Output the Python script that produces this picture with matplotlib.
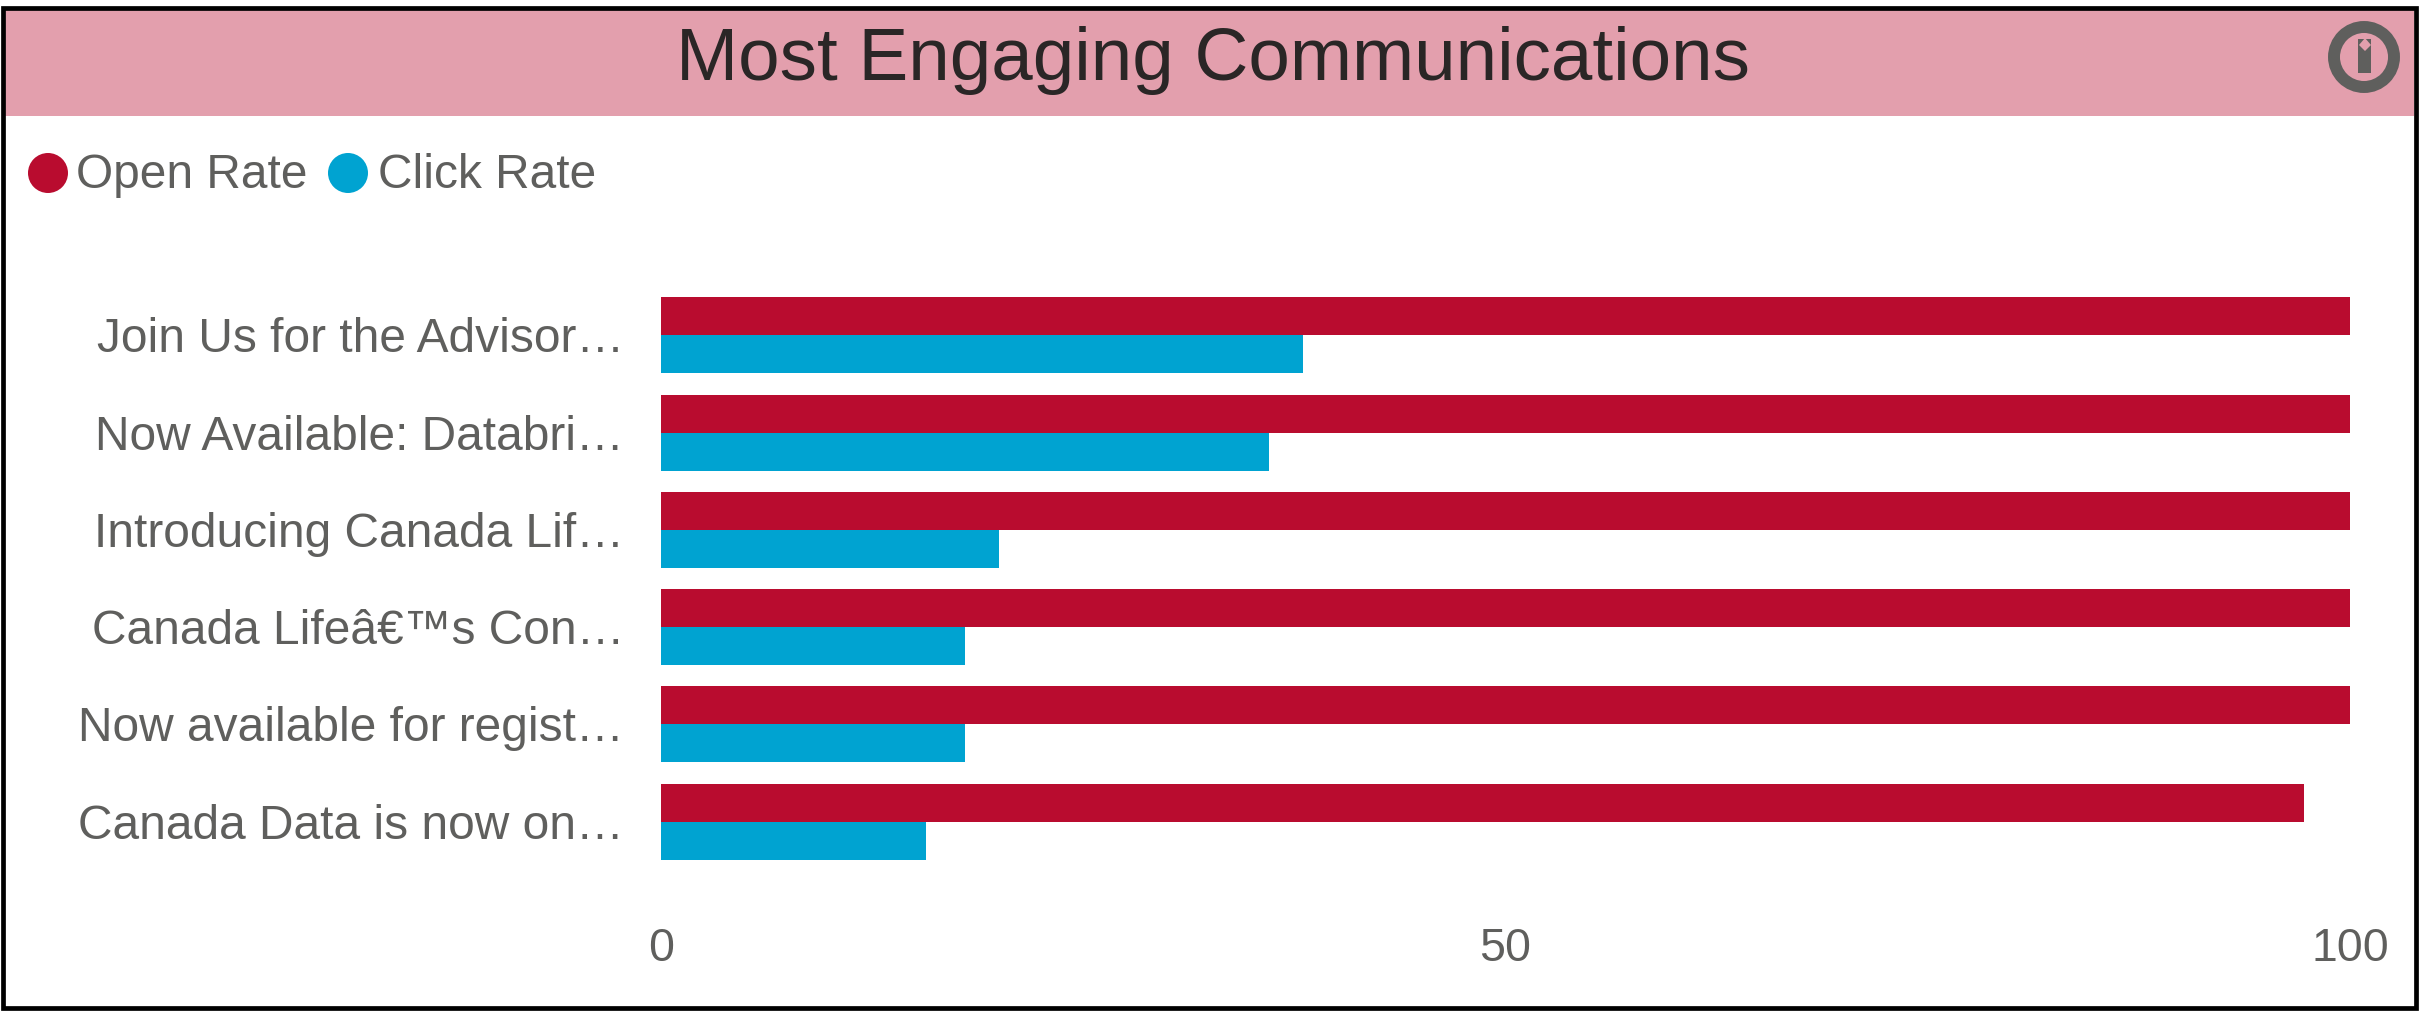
import matplotlib
matplotlib.use("Agg")
import matplotlib.pyplot as plt
from matplotlib.patches import Rectangle, Circle, Polygon
from matplotlib.transforms import ScaledTranslation
import numpy as np

W, H = 2419, 1012
RED = "#B90C2F"
BLUE = "#00A3D1"
HEADER = "#E39FAD"
GREY = "#5F5F5D"

categories = [
    "Join Us for the Advisor…",
    "Now Available: Databri…",
    "Introducing Canada Lif…",
    "Canada Lifeâ€™s Con…",
    "Now available for regist…",
    "Canada Data is now on…",
]
open_rate = [100, 100, 100, 100, 100, 97.3]
click_rate = [38, 36, 20, 18, 18, 15.7]
x_ticks = [0, 50, 100]
series_names = ["Open Rate", "Click Rate"]

plt.rcParams["font.family"] = ["Liberation Sans", "DejaVu Sans"]
fig = plt.figure(figsize=(W / 100, H / 100), dpi=100, facecolor="white")

# Page-level layer in pixel coordinates: frame, header band, info icon, legend
page = fig.add_axes([0, 0, 1, 1])
page.set_xlim(0, W)
page.set_ylim(H, 0)
page.axis("off")

page.add_patch(Rectangle((3, 9), W - 8, 108, fc=HEADER, ec="none"))
page.add_patch(Rectangle((2.5, 9), W - 5.5, H - 12, fc="none", ec="black", lw=3.4))
page.text(1213, 60, "Most Engaging Communications", fontsize=53.7, color="#2A2626",
          ha="center", va="center")

page.add_patch(Circle((2364, 58), 30, fc="none", ec=GREY, lw=8.6))
page.add_patch(Rectangle((2358, 40), 13, 34, fc=GREY, ec="none"))
page.add_patch(Polygon([(2365, 39), (2371, 46), (2365, 52), (2359, 46)], fc=HEADER, ec="none"))

for cx, tx, name, col in [(48, 76, series_names[0], RED), (348, 378, series_names[1], BLUE)]:
    page.add_patch(Circle((cx, 174), 20, fc=col, ec="none"))
    page.text(tx, 175, name, fontsize=34.5, color=GREY, ha="left", va="center")

# Horizontal grouped bars
ax = fig.add_axes([661 / W, 1 - 871.2 / H, (2350 - 661) / W, (871.2 - 287.8) / H])
ax.patch.set_alpha(0)
y = np.arange(len(categories))
bar_h = 0.39
ax.barh(y - bar_h / 2, open_rate, height=bar_h, color=RED)
ax.barh(y + bar_h / 2, click_rate, height=bar_h, color=BLUE)
ax.set_xlim(0, 100)
ax.set_ylim(len(categories) - 0.5, -0.5)
ax.set_yticks(y, categories)
ax.set_xticks(x_ticks)
ax.tick_params(axis="y", length=0, labelsize=34.5, labelcolor=GREY, pad=26.5)
ax.tick_params(axis="x", length=0, labelsize=33.5, labelcolor=GREY, pad=40)
nudge = ScaledTranslation(0, 1.5 / 100, fig.dpi_scale_trans)
for lab in ax.get_yticklabels():
    lab.set_transform(lab.get_transform() + nudge)
for s in ax.spines.values():
    s.set_visible(False)

fig.savefig("out.png", dpi=100)
